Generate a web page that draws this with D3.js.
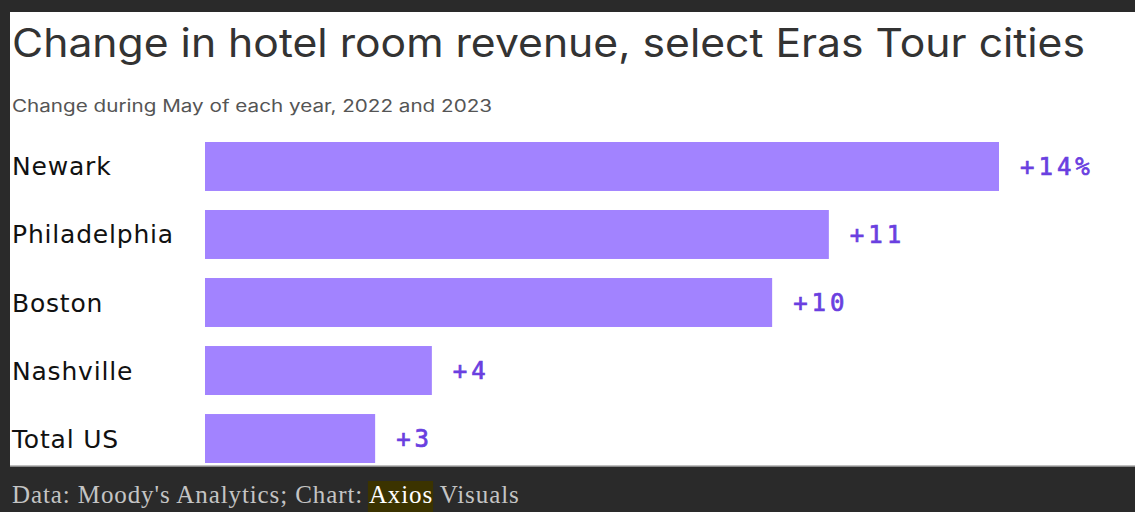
<!DOCTYPE html>
<html><head><meta charset="utf-8">
<script src="https://cdn.jsdelivr.net/npm/d3@7"></script>
<style>html,body{margin:0;padding:0;background:#2a2a2a;overflow:hidden;}</style>
</head><body>
<svg id="c" width="1135" height="512"></svg>
<script>
const categories = ["Newark", "Philadelphia", "Boston", "Nashville", "Total US"];
const values = [14, 11, 10, 4, 3];
const valueLabels = ["+14%", "+11", "+10", "+4", "+3"];

const svg = d3.select("#c");
const W = 1135, H = 512;
svg.append("rect").attr("width", W).attr("height", H).attr("fill", "#2a2a2a");
svg.append("rect").attr("x", 10).attr("y", 12).attr("width", W - 10).attr("height", 454).attr("fill", "#fff");
svg.append("line").attr("x1", 10).attr("x2", W).attr("y1", 466).attr("y2", 466).attr("stroke", "#aaa").attr("stroke-width", 1.5);

svg.append("text").attr("x", 12).attr("y", 57)
  .attr("font-family", "Inter, 'Noto Sans', sans-serif").attr("font-size", 39)
  .attr("textLength", 1073).attr("lengthAdjust", "spacingAndGlyphs")
  .attr("fill", "#333").text("Change in hotel room revenue, select Eras Tour cities");
svg.append("text").attr("x", 12).attr("y", 112)
  .attr("font-family", "Inter, 'Noto Sans', sans-serif").attr("font-size", 17)
  .attr("textLength", 480).attr("lengthAdjust", "spacingAndGlyphs")
  .attr("fill", "#555").text("Change during May of each year, 2022 and 2023");

const x = d3.scaleLinear().domain([0, 14]).range([205, 999]);
const y = d3.scaleBand().domain(categories).range([142, 463]).paddingInner(0.28).paddingOuter(0);

svg.selectAll("rect.bar").data(categories).enter().append("rect").attr("class", "bar")
  .attr("x", x(0)).attr("y", d => y(d)).attr("height", y.bandwidth())
  .attr("width", (d, i) => x(values[i]) - x(0)).attr("fill", "#a283ff");

svg.selectAll("text.cat").data(categories).enter().append("text").attr("class", "cat")
  .attr("x", 12).attr("y", d => y(d) + y.bandwidth() / 2).attr("dy", "0.36em")
  .attr("font-family", "'DejaVu Sans', sans-serif").attr("font-size", 25)
  .attr("letter-spacing", 0.8)
  .attr("fill", "#111").text(d => d);

svg.selectAll("text.val").data(categories).enter().append("text").attr("class", "val")
  .attr("x", (d, i) => x(values[i]) + 21).attr("y", d => y(d) + y.bandwidth() / 2).attr("dy", "0.36em")
  .attr("font-family", "'DejaVu Sans Mono', 'Liberation Mono', monospace").attr("font-size", 24)
  .attr("letter-spacing", 4)
  .attr("stroke", "#6a3fe0").attr("stroke-width", 0.7)
  .attr("fill", "#6a3fe0").text((d, i) => valueLabels[i]);

const foot = svg.append("text").attr("x", 12).attr("y", 503)
  .attr("font-family", "'Liberation Serif', 'DejaVu Serif', serif").attr("font-size", 25)
  .attr("letter-spacing", 0.9)
  .attr("fill", "#c4c4c4");
foot.append("tspan").text("Data: Moody's Analytics; Chart: ");
const ax = foot.append("tspan").attr("fill", "#fff").text("Axios");
foot.append("tspan").text(" Visuals");
const node = ax.node();
const start = node.getStartPositionOfChar(0).x;
const end = node.getEndPositionOfChar(4).x;
svg.insert("rect", "text:last-of-type").attr("x", start - 1).attr("y", 481).attr("width", end - start + 1).attr("height", 31).attr("fill", "#3b3300");
</script>
</body></html>
